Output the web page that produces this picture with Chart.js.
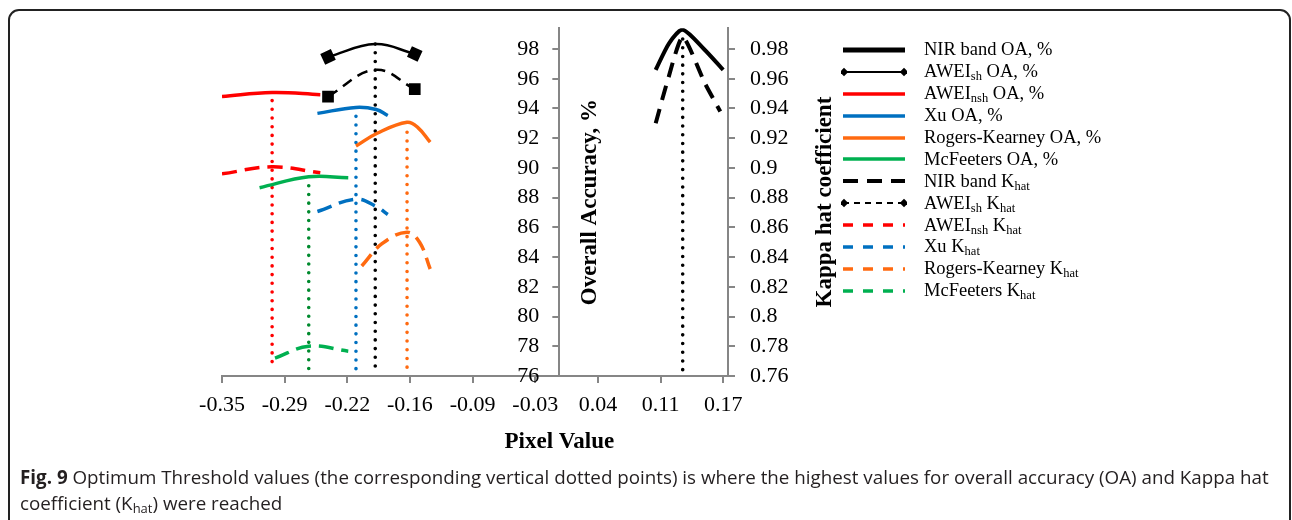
<!DOCTYPE html>
<html>
<head>
<meta charset="utf-8">
<script src="https://cdn.jsdelivr.net/npm/chart.js@4.4.1/dist/chart.umd.min.js"></script>
<style>
  html, body { margin: 0; padding: 0; background: #fff; }
  body { width: 1292px; height: 520px; position: relative; overflow: hidden; }
  #frame { position: absolute; left: 8px; top: 9px; width: 1279px; height: 560px; border: 2px solid #222; border-radius: 11px; }
  #chart { position: absolute; left: 0; top: 0; }
  #legend { position: absolute; left: 841px; top: 39px; font-family: "Liberation Serif", "Times New Roman", serif; font-size: 18.5px; color: #000; }
  .row { height: 21.9px; display: flex; align-items: center; white-space: nowrap; }
  .row svg { width: 66px; height: 14px; margin-right: 17px; flex: none; }
  .row sub { font-size: 12.5px; vertical-align: -3px; line-height: 0; }
  #caption { position: absolute; left: 20px; top: 464px; font-family: "Open Sans", sans-serif; font-size: 18.8px; line-height: 26px; color: #231f20; white-space: nowrap; }
  #caption b { font-weight: 700; }
  #caption sub { font-size: 13px; vertical-align: -3px; line-height: 0; }
</style>
</head>
<body>
<div id="frame"></div>
<canvas id="chart" width="1292" height="470"></canvas>
<div id="legend"></div>
<div id="caption"><b>Fig. 9</b> Optimum Threshold values (the corresponding vertical dotted points) is where the highest values for overall accuracy (OA) and Kappa hat<br>coefficient (K<sub>hat</sub>) were reached</div>
<script>
// axis ticks
const xTicks = [-0.35, -0.285, -0.22, -0.155, -0.09, -0.025, 0.04, 0.105, 0.17];
const xTickLabels = ['-0.35', '-0.29', '-0.22', '-0.16', '-0.09', '-0.03', '0.04', '0.11', '0.17'];
const oaTicks = [76, 78, 80, 82, 84, 86, 88, 90, 92, 94, 96, 98];
const khatTicks = [0.76, 0.78, 0.8, 0.82, 0.84, 0.86, 0.88, 0.9, 0.92, 0.94, 0.96, 0.98];

// NIR band
const nirX = [0.100, 0.114, 0.128, 0.150, 0.170];
const nirOA = [96.6, 98.4, 99.3, 98.0, 96.6];
const nirKhatX = [0.100, 0.112, 0.128, 0.151, 0.167];
const nirKhat = [0.930, 0.958, 0.988, 0.957, 0.938];
// AWEIsh
const awshX = [-0.240, -0.191, -0.150];
const awshOA = [97.47, 98.33, 97.67];
const awshKhat = [0.948, 0.966, 0.953];
// AWEInsh
const awnshX = [-0.350, -0.298, -0.248];
const awnshOA = [94.80, 95.07, 94.93];
const awnshKhat = [0.896, 0.9007, 0.8967];
// Xu
const xuX = [-0.251, -0.211, -0.190, -0.178];
const xuOA = [93.67, 94.07, 93.93, 93.53];
const xuKhat = [0.8707, 0.879, 0.874, 0.8687];
// Rogers-Kearney
const rkX = [-0.211, -0.189, -0.158, -0.147, -0.134];
const rkOA = [91.47, 92.33, 93.07, 92.73, 91.73];
const rkKhatX = [-0.205, -0.184, -0.158, -0.145, -0.134];
const rkKhat = [0.834, 0.849, 0.8567, 0.850, 0.832];
// McFeeters
const mcfX = [-0.311, -0.260, -0.219];
const mcfOA = [88.67, 89.40, 89.33];
const mcfKhatX = [-0.295, -0.260, -0.219];
const mcfKhat = [0.772, 0.780, 0.7767];

// optimum thresholds (vertical dotted lines)
const optX = [-0.298, -0.260, -0.211, -0.191, -0.158, 0.128];
const optTop = [94.53, 88.8, 93.47, 98.33, 92.4, 98.67];
const optBottom = [76.5, 76.5, 76, 76.2, 76.1, 76.2];
const optColors = ['#FF0000', '#008A2E', '#0070C0', '#000000', '#FF6A10', '#000000'];

const RED = '#FF0000', BLUE = '#0070C0', ORANGE = '#FF6A10', GREEN = '#00B050', BLACK = '#000000';

function pts(xs, ys) {
  return xs.map((x, i) => ({ x: x, y: ys[i] }));
}

function series(xs, ys, axis, color, width, dash, extra) {
  return Object.assign({
    data: pts(xs, ys),
    yAxisID: axis,
    borderColor: color,
    backgroundColor: color,
    borderWidth: width,
    borderDash: dash || [],
    pointRadius: 0,
    tension: 0.4,
    fill: false
  }, extra || {});
}

const datasets = [
  series(nirX, nirOA, 'y', BLACK, 4, null, { tension: 0.25 }),
  series(awshX, awshOA, 'y', BLACK, 2.5, null, { pointRadius: [6.5, 0, 6.5], pointStyle: 'rect', pointRotation: [-25, 0, 25] }),
  series(awnshX, awnshOA, 'y', RED, 3.5),
  series(xuX, xuOA, 'y', BLUE, 3.5),
  series(rkX, rkOA, 'y', ORANGE, 3.5),
  series(mcfX, mcfOA, 'y', GREEN, 3.5),
  series(nirKhatX, nirKhat, 'y2', BLACK, 4, [15, 9], { tension: 0.2 }),
  series(awshX, awshKhat, 'y2', BLACK, 2.5, [11, 7], { pointRadius: [6.5, 0, 6.5], pointStyle: 'rect' }),
  series(awnshX, awnshKhat, 'y2', RED, 3.5, [15, 8]),
  series(xuX, xuKhat, 'y2', BLUE, 3.5, [15, 8]),
  series(rkKhatX, rkKhat, 'y2', ORANGE, 3.5, [15, 8]),
  series(mcfKhatX, mcfKhat, 'y2', GREEN, 3.5, [15, 8])
];

optX.forEach((x, i) => {
  datasets.push(series([x, x], [optTop[i], optBottom[i]], 'y', optColors[i], 3.6, [0, 8.7], { tension: 0, borderCapStyle: 'round' }));
});

// legend rows (label, subscript, rest)
const legendItems = [
  { main: 'NIR band OA, %', sub: '', rest: '', color: BLACK, width: 5, dash: '' },
  { main: 'AWEI', sub: 'sh', rest: ' OA, %', color: BLACK, width: 2, dash: '', marker: true },
  { main: 'AWEI', sub: 'nsh', rest: ' OA, %', color: RED, width: 3.5, dash: '' },
  { main: 'Xu OA, %', sub: '', rest: '', color: BLUE, width: 3.5, dash: '' },
  { main: 'Rogers-Kearney OA, %', sub: '', rest: '', color: ORANGE, width: 3.5, dash: '' },
  { main: 'McFeeters OA, %', sub: '', rest: '', color: GREEN, width: 3.5, dash: '' },
  { main: 'NIR band K', sub: 'hat', rest: '', color: BLACK, width: 4, dash: '15 9' },
  { main: 'AWEI', sub: 'sh', rest: ' K<sub>hat</sub>', color: BLACK, width: 2, dash: '6 5', marker: true },
  { main: 'AWEI', sub: 'nsh', rest: ' K<sub>hat</sub>', color: RED, width: 3.5, dash: '10 10' },
  { main: 'Xu K', sub: 'hat', rest: '', color: BLUE, width: 3.5, dash: '10 10' },
  { main: 'Rogers-Kearney K', sub: 'hat', rest: '', color: ORANGE, width: 3.5, dash: '10 10' },
  { main: 'McFeeters K', sub: 'hat', rest: '', color: GREEN, width: 3.5, dash: '10 10' }
];

document.getElementById('legend').innerHTML = legendItems.map(it => {
  let marks = '';
  if (it.marker) {
    marks = `<rect x="-3" y="-3" width="6" height="6" transform="translate(3,7) rotate(45)" fill="${it.color}"/>` +
            `<rect x="-3" y="-3" width="6" height="6" transform="translate(63,7) rotate(45)" fill="${it.color}"/>`;
  }
  const sample = `<svg viewBox="0 0 66 14"><line x1="2" y1="7" x2="64" y2="7" stroke="${it.color}" stroke-width="${it.width}" stroke-dasharray="${it.dash}"/>${marks}</svg>`;
  const sub = it.sub ? `<sub>${it.sub}</sub>` : '';
  return `<div class="row">${sample}<span>${it.main}${sub}${it.rest}</span></div>`;
}).join('');

// y axis sits on x = 0, titles drawn by hand
const axisTitles = {
  id: 'axisTitles',
  afterLayout(chart) {
    const y = chart.scales.y;
    const x0 = chart.scales.x.getPixelForValue(0);
    y.left = x0 - 60;
    y.right = x0;
  },
  afterDraw(chart) {
    const { ctx, chartArea, scales } = chart;
    const x0 = scales.x.getPixelForValue(0);
    const midY = (chartArea.top + chartArea.bottom) / 2;
    ctx.save();
    ctx.fillStyle = '#000';
    ctx.font = 'bold 23px "Liberation Serif", "Times New Roman", serif';
    ctx.textAlign = 'center';
    ctx.textBaseline = 'middle';
    ctx.fillText('Pixel Value', x0, chartArea.bottom + 66);

    ctx.save();
    ctx.translate(x0 + 31, midY);
    ctx.rotate(-Math.PI / 2);
    ctx.fillText('Overall Accuracy, %', 0, 0);
    ctx.restore();

    ctx.save();
    ctx.translate(chartArea.right + 97, midY);
    ctx.rotate(-Math.PI / 2);
    ctx.fillText('Kappa hat coefficient', 0, 0);
    ctx.restore();
    ctx.restore();
  }
};

Chart.defaults.font.family = '"Liberation Serif", "Times New Roman", serif';
Chart.defaults.font.size = 22;
Chart.defaults.color = '#000';

const AXIS = '#868686';

new Chart(document.getElementById('chart'), {
  type: 'line',
  data: { datasets },
  plugins: [axisTitles],
  options: {
    responsive: false,
    animation: false,
    events: [],
    layout: { padding: { left: 222, top: 27, right: 494, bottom: 14 } },
    plugins: {
      legend: { display: false },
      tooltip: { enabled: false }
    },
    scales: {
      x: {
        type: 'linear',
        min: -0.35,
        max: 0.175,
        afterBuildTicks: (s) => { s.ticks = xTicks.map(v => ({ value: v })); },
        afterFit: (s) => { s.height = 80; },
        ticks: { padding: 9, callback: (v, i) => xTickLabels[i] },
        grid: { drawOnChartArea: false, tickLength: 7, color: AXIS, lineWidth: 2 },
        border: { color: AXIS, width: 2 }
      },
      y: {
        position: 'left',
        min: 76,
        max: 99.4,
        afterBuildTicks: (s) => { s.ticks = oaTicks.map(v => ({ value: v })); },
        afterFit: (s) => { s.width = 0; },
        ticks: { padding: 13, callback: (v) => String(v) },
        grid: { drawOnChartArea: false, tickLength: 7, color: AXIS, lineWidth: 2 },
        border: { color: AXIS, width: 2 }
      },
      y2: {
        position: 'right',
        min: 0.76,
        max: 0.994,
        afterBuildTicks: (s) => { s.ticks = khatTicks.map(v => ({ value: v })); },
        afterFit: (s) => { s.width = 70; },
        ticks: { padding: 15, callback: (v) => String(Number(v.toFixed(2))) },
        grid: { drawOnChartArea: false, tickLength: 7, color: AXIS, lineWidth: 2 },
        border: { color: AXIS, width: 2 }
      }
    }
  }
});
</script>
</body>
</html>
